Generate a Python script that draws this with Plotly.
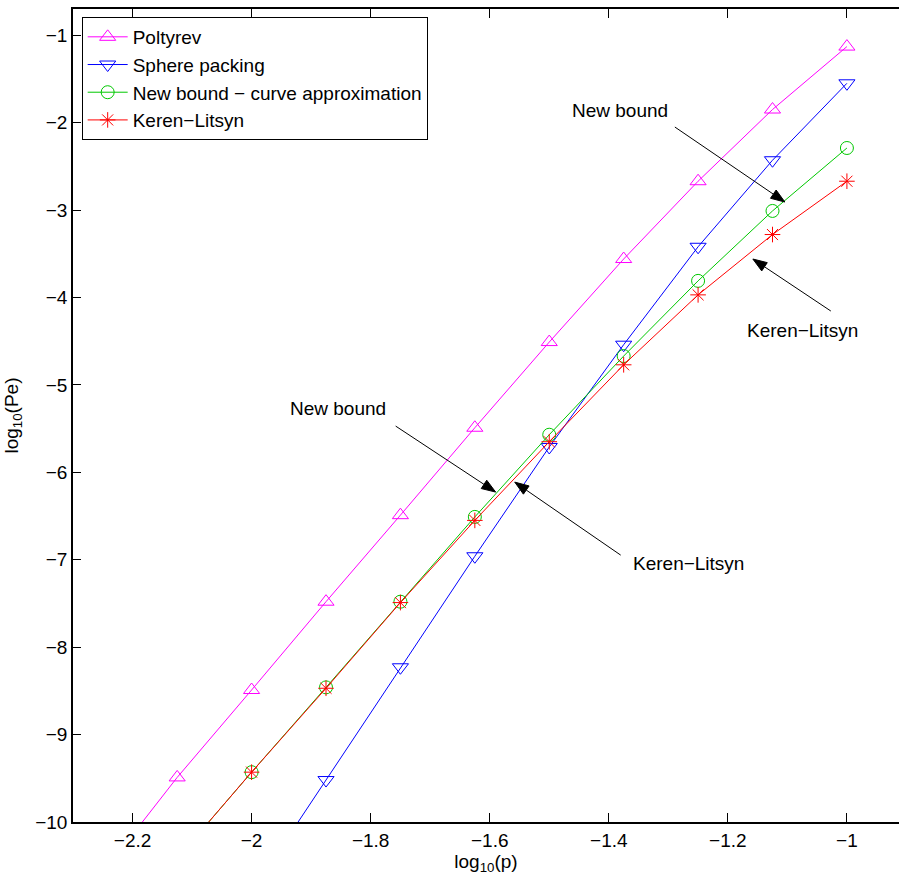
import math
import plotly.graph_objects as go

# log10(p) grid shared by the curves
x_poltyrev = [-2.25, -2.125, -2.0, -1.875, -1.75, -1.625, -1.5, -1.375, -1.25, -1.125, -1.0]
y_poltyrev = [-10.58, -9.49, -8.49, -7.48, -6.49, -5.49, -4.51, -3.56, -2.67, -1.85, -1.13]

x_sphere = [-2.0, -1.875, -1.75, -1.625, -1.5, -1.375, -1.25, -1.125, -1.0]
y_sphere = [-10.8, -9.52, -8.23, -6.96, -5.71, -4.54, -3.42, -2.43, -1.55]

x_new = [-2.125, -2.0, -1.875, -1.75, -1.625, -1.5, -1.375, -1.25, -1.125, -1.0]
y_new = [-10.42, -9.43, -8.46, -7.48, -6.51, -5.57, -4.67, -3.81, -3.01, -2.29]

x_kl = [-2.125, -2.0, -1.875, -1.75, -1.625, -1.5, -1.375, -1.25, -1.125, -1.0]
y_kl = [-10.42, -9.43, -8.47, -7.49, -6.55, -5.65, -4.77, -3.97, -3.28, -2.67]

x_ticks = [-2.2, -2.0, -1.8, -1.6, -1.4, -1.2, -1.0]
x_tick_text = ["−2.2", "−2", "−1.8", "−1.6", "−1.4", "−1.2", "−1"]
y_ticks = [-10, -9, -8, -7, -6, -5, -4, -3, -2, -1]
y_tick_text = ["−10", "−9", "−8", "−7", "−6", "−5", "−4", "−3", "−2", "−1"]

FONT = "Liberation Sans, Arial, Helvetica, sans-serif"
FS = 19

W, H = 899, 892
ML, MR, MT, MB = 73, 0, 9, 70
XR = [-2.3, -0.9125]
YR = [-10, -0.7]
SX = (W - ML - MR) / (XR[1] - XR[0])   # pixels per x unit
SY = (H - MT - MB) / (YR[1] - YR[0])   # pixels per y unit

fig = go.Figure()

series = [
    ("Poltyrev", x_poltyrev, y_poltyrev, "#ff00ff", "triangle-up-open", 14),
    ("Sphere packing", x_sphere, y_sphere, "#0000ff", "triangle-down-open", 14),
    ("New bound − curve approximation", x_new, y_new, "#00c800", "circle-open", 13),
    ("Keren−Litsyn", x_kl, y_kl, "#ff0000", "asterisk-open", 13),
]
for i, (name, xs, ys, col, sym, size) in enumerate(series):
    fig.add_trace(go.Scatter(
        x=xs, y=ys, name=name, mode="lines+markers", legendgroup=f"g{i}",
        line=dict(color=col, width=1),
        marker=dict(symbol=sym, size=size, color=col, line=dict(color=col, width=1)),
    ))

# callout labels: (text, text position, arrow tail, arrow tip)
labels = [
    ("New bound", (-1.3815, -1.856), (-1.289, -2.050), (-1.1042, -2.908)),
    ("Keren−Litsyn", (-1.074, -4.373), (-1.027, -4.155), (-1.158, -3.560)),
    ("New bound", (-1.8555, -5.265), (-1.758, -5.471), (-1.590, -6.226)),
    ("Keren−Litsyn", (-1.2655, -7.039), (-1.380, -6.947), (-1.558, -6.112)),
]

HEAD_LEN, HEAD_HALF = 14, 5  # arrowhead size in pixels
for text, (tx, ty), tail, tip in labels:
    fig.add_annotation(x=tx, y=ty, text=text, showarrow=False,
                       font=dict(family=FONT, size=FS, color="black"),
                       xanchor="center", yanchor="middle")
    # arrow direction in screen pixels (y downward)
    dx = (tip[0] - tail[0]) * SX
    dy = -(tip[1] - tail[1]) * SY
    n = math.hypot(dx, dy)
    ux, uy = dx / n, dy / n
    px, py = -uy, ux

    def to_data(ox, oy):
        return tip[0] + ox / SX, tip[1] - oy / SY

    bx, by = to_data(-ux * HEAD_LEN, -uy * HEAD_LEN)
    c1 = to_data(-ux * HEAD_LEN + px * HEAD_HALF, -uy * HEAD_LEN + py * HEAD_HALF)
    c2 = to_data(-ux * HEAD_LEN - px * HEAD_HALF, -uy * HEAD_LEN - py * HEAD_HALF)
    fig.add_shape(type="line", xref="x", yref="y",
                  x0=tail[0], y0=tail[1], x1=bx, y1=by,
                  line=dict(color="black", width=1))
    fig.add_shape(type="path", xref="x", yref="y",
                  path=f"M {tip[0]},{tip[1]} L {c1[0]},{c1[1]} L {c2[0]},{c2[1]} Z",
                  fillcolor="black", line=dict(color="black", width=1))

fig.update_layout(
    width=W, height=H,
    margin=dict(l=ML, r=MR, t=MT, b=MB),
    paper_bgcolor="white", plot_bgcolor="white",
    font=dict(family=FONT, size=FS, color="black"),
    showlegend=True,
    legend=dict(
        x=0.0105, y=0.9902, xanchor="left", yanchor="top",
        bgcolor="white", bordercolor="black", borderwidth=1,
        font=dict(family=FONT, size=FS, color="black"),
        traceorder="grouped", tracegroupgap=0, itemwidth=40,
    ),
    xaxis=dict(
        range=XR, tickvals=x_ticks, ticktext=x_tick_text,
        showgrid=False, zeroline=False,
        showline=True, linecolor="black", linewidth=1.5, mirror="ticks",
        ticks="inside", ticklen=9, tickcolor="black", tickwidth=1,
        title=dict(text="log<sub>10</sub>(p)", standoff=2,
                   font=dict(family=FONT, size=FS)),
    ),
    yaxis=dict(
        range=YR, tickvals=y_ticks, ticktext=y_tick_text,
        showgrid=False, zeroline=False,
        showline=True, linecolor="black", linewidth=1.5, mirror=False,
        ticks="inside", ticklen=8, tickcolor="black", tickwidth=1,
        title=dict(text="log<sub>10</sub>(Pe)", standoff=12,
                   font=dict(family=FONT, size=FS)),
    ),
)

fig.write_html("out.html")
